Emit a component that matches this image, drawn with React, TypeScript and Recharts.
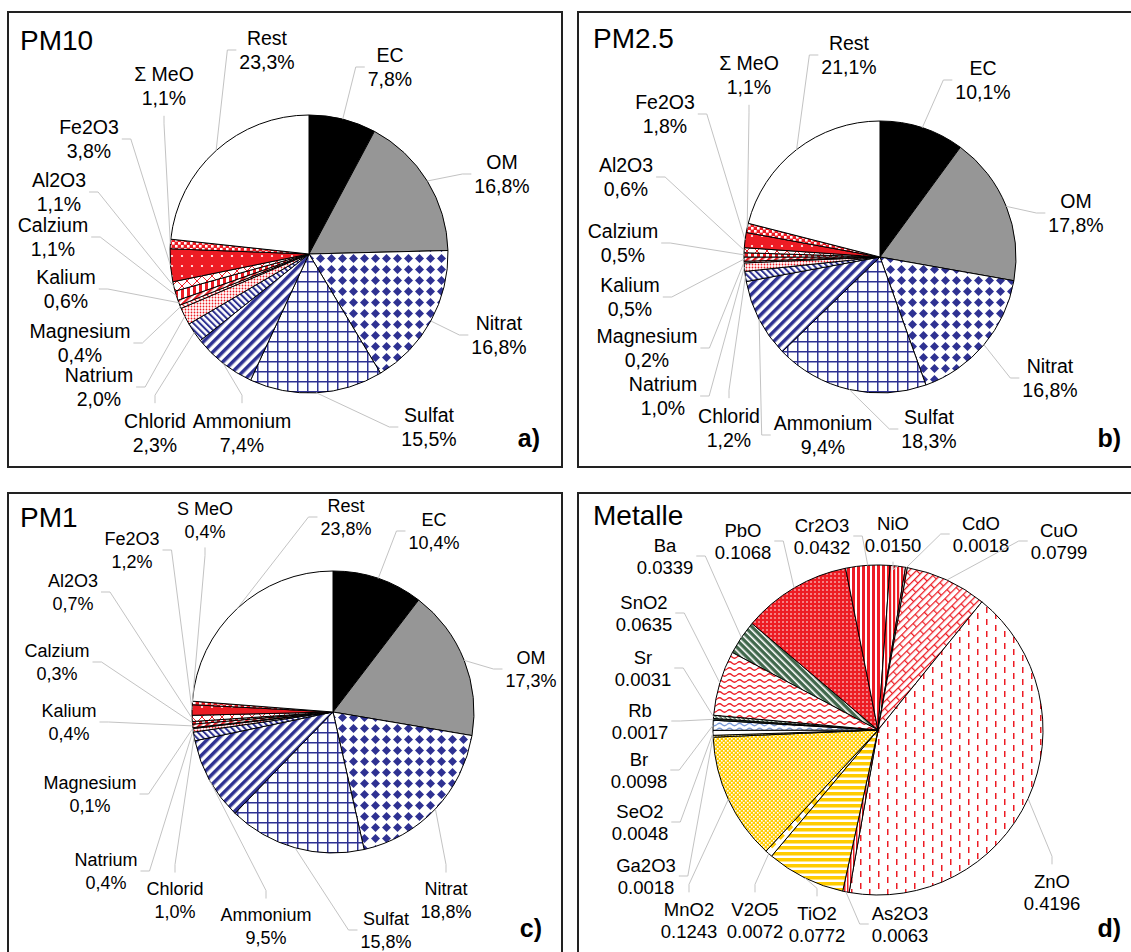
import React from 'react';
import { PieChart, Pie, Cell } from 'recharts';

const FONT = '"Liberation Sans", Arial, Helvetica, sans-serif';

// ---- data ----
const pm10Names = ['EC', 'OM', 'Nitrat', 'Sulfat', 'Ammonium', 'Chlorid', 'Natrium', 'Magnesium', 'Kalium', 'Calzium', 'Al2O3', 'Fe2O3', 'Σ MeO', 'Rest'];
const pm10Values = [7.8, 16.8, 16.8, 15.5, 7.4, 2.3, 2.0, 0.4, 0.6, 1.1, 1.1, 3.8, 1.1, 23.3];

const pm25Names = ['EC', 'OM', 'Nitrat', 'Sulfat', 'Ammonium', 'Chlorid', 'Natrium', 'Magnesium', 'Kalium', 'Calzium', 'Al2O3', 'Fe2O3', 'Σ MeO', 'Rest'];
const pm25Values = [10.1, 17.8, 16.8, 18.3, 9.4, 1.2, 1.0, 0.2, 0.5, 0.5, 0.6, 1.8, 1.1, 21.1];

const pm1Names = ['EC', 'OM', 'Nitrat', 'Sulfat', 'Ammonium', 'Chlorid', 'Natrium', 'Magnesium', 'Kalium', 'Calzium', 'Al2O3', 'Fe2O3', 'S MeO', 'Rest'];
const pm1Values = [10.4, 17.3, 18.8, 15.8, 9.5, 1.0, 0.4, 0.1, 0.4, 0.3, 0.7, 1.2, 0.4, 23.8];

const metalNames = ['Ba', 'PbO', 'Cr2O3', 'NiO', 'CdO', 'CuO', 'ZnO', 'As2O3', 'TiO2', 'V2O5', 'MnO2', 'Ga2O3', 'SeO2', 'Br', 'Rb', 'Sr', 'SnO2'];
const metalValues = [0.0339, 0.1068, 0.0432, 0.015, 0.0018, 0.0799, 0.4196, 0.0063, 0.0772, 0.0072, 0.1243, 0.0018, 0.0048, 0.0098, 0.0017, 0.0031, 0.0635];

// ---- styles ----
const NAVY = '#2E3192';
const RED = '#ED1C24';
const YEL = '#FFCC00';
const GRN = '#41684C';

const pmFills = [
  '#000000', '#969696', 'url(#p-nitrat)', 'url(#p-sulfat)', 'url(#p-ammon)', 'url(#p-chlorid)',
  'url(#p-natrium)', 'url(#p-mg)', 'url(#p-kalium)', 'url(#p-calz)', 'url(#p-al)', 'url(#p-fe)',
  'url(#p-meo)', '#ffffff',
];
const metalFills = [
  'url(#p-ba)', 'url(#p-pbo)', 'url(#p-cr)', 'url(#p-nio)', 'url(#p-cdo)', 'url(#p-cuo)', 'url(#p-zno)',
  'url(#p-as)', 'url(#p-tio)', 'url(#p-v2o5)', 'url(#p-mno)', 'url(#p-ga)', '#ffffff', 'url(#p-br)',
  '#2f4f3a', 'url(#p-sr)', 'url(#p-sno)',
];

// label centres, relative to the pie centre (layout only)
const pm10Labels = [[81, -187], [193, -80], [190, 81], [120, 173], [-67, 179], [-154, 179], [-210, 133], [-229, 89], [-243, 35], [-256, -17], [-250, -62], [-220, -115], [-145, -168], [-42, -204]];
const pm25Labels = [[103, -177], [196, -44], [170, 121], [49, 172], [-57, 178], [-151, 171], [-217, 139], [-233, 91], [-250, 40], [-257, -14], [-254, -80], [-215, -143], [-131, -182], [-31, -202]];
const pm1Labels = [[101, -181], [198, -43], [113, 188], [53, 218], [-67, 214], [-158, 188], [-227, 159], [-243, 82], [-264, 10], [-276, -50], [-260, -120], [-201, -162], [-128, -192], [13, -195]];
const metalLabels = [[-213, -174], [-135, -189], [-56, -194], [15, -196], [103, -196], [181, -189], [174, 162], [22, 194], [-61, 194], [-123, 190], [-189, 190], [-232, 146], [-238, 92], [-239, 40], [-238, -9], [-235, -62], [-234, -117]];

const pct = (v: number) => v.toFixed(1).replace('.', ',') + '%';
const dec = (v: number) => v.toFixed(4);

let measureCtx: CanvasRenderingContext2D | null = null;
function textWidth(s: string, fs: number) {
  if (!measureCtx && typeof document !== 'undefined') {
    measureCtx = document.createElement('canvas').getContext('2d');
  }
  if (!measureCtx) return s.length * fs * 0.55;
  measureCtx.font = `${fs}px "Liberation Sans", Arial, sans-serif`;
  return measureCtx.measureText(s).width;
}

interface PanelCfg {
  key: string;
  title: string;
  letter: string;
  names: string[];
  values: number[];
  fmt: (v: number) => string;
  fills: string[];
  labels: number[][];
  box: { left: number; top: number; w: number; h: number };
  center: [number, number];
  r: number;
  start: number;
  fs: number;
  ls: number;
  titleAt: [number, number];
  letterAt: [number, number];
}

const panels: PanelCfg[] = [
  {
    key: 'a', title: 'PM10', letter: 'a)', names: pm10Names, values: pm10Values, fmt: pct, fills: pmFills, labels: pm10Labels,
    box: { left: 7, top: 11, w: 556, h: 457 }, center: [309, 254], r: 139, start: 90, fs: 19.5, ls: 24.5,
    titleAt: [20, 50], letterAt: [540, 447],
  },
  {
    key: 'b', title: 'PM2.5', letter: 'b)', names: pm25Names, values: pm25Values, fmt: pct, fills: pmFills, labels: pm25Labels,
    box: { left: 577, top: 11, w: 570, h: 457 }, center: [880, 257], r: 136, start: 90, fs: 19.5, ls: 24.5,
    titleAt: [593, 48], letterAt: [1121, 447],
  },
  {
    key: 'c', title: 'PM1', letter: 'c)', names: pm1Names, values: pm1Values, fmt: pct, fills: pmFills, labels: pm1Labels,
    box: { left: 7, top: 492, w: 556, h: 480 }, center: [333, 712], r: 141, start: 90, fs: 18, ls: 22.5,
    titleAt: [20, 527], letterAt: [542, 937],
  },
  {
    key: 'd', title: 'Metalle', letter: 'd)', names: metalNames, values: metalValues, fmt: dec, fills: metalFills, labels: metalLabels,
    box: { left: 577, top: 492, w: 570, h: 480 }, center: [878, 730], r: 165, start: 152, fs: 18.5, ls: 22,
    titleAt: [593, 525], letterAt: [1121, 937],
  },
];

function makeLabel(p: PanelCfg) {
  return (props: any) => {
    const { cx, cy, midAngle, outerRadius, index } = props;
    const RAD = Math.PI / 180;
    const ex = cx + outerRadius * Math.cos(-midAngle * RAD);
    const ey = cy + outerRadius * Math.sin(-midAngle * RAD);
    const [dx, dy] = p.labels[index];
    const lx = cx + dx;
    const ly = cy + dy;
    const name = p.names[index];
    const val = p.fmt(p.values[index]);
    const hw = Math.max(textWidth(name, p.fs), textWidth(val, p.fs)) / 2;
    const hh = p.ls / 2 + p.fs * 0.9;
    let pts: number[][];
    if (ex > lx - hw - 12 && ex < lx + hw + 12) {
      const sy = ey < ly ? ly - hh : ly + hh;
      const st = ey < ly ? sy - 8 : sy + 8;
      pts = [[lx, sy], [lx, st], [ex, ey]];
    } else {
      const sx = ex < lx ? lx - hw - 3 : lx + hw + 3;
      const st = ex < lx ? sx - 9 : sx + 9;
      pts = [[sx, ly], [st, ly], [ex, ey]];
    }
    return (
      <g key={`lbl-${p.key}-${index}`}>
        <polyline points={pts.map((q) => q.join(',')).join(' ')} fill="none" stroke="#c3c3c3" strokeWidth={1} />
        <text textAnchor="middle" fontSize={p.fs} fontFamily={FONT} fill="#000">
          <tspan x={lx} y={ly - p.ls / 2 + p.fs * 0.36}>{name}</tspan>
          <tspan x={lx} y={ly + p.ls / 2 + p.fs * 0.36}>{val}</tspan>
        </text>
      </g>
    );
  };
}

function PatternDefs() {
  const stripe = (id: string, w: number, sw: number, fg: string, bg: string, rot: number) => (
    <pattern id={id} width={w} height={w} patternUnits="userSpaceOnUse" patternTransform={`rotate(${rot})`}>
      <rect width={w} height={w} fill={bg} />
      <rect width={sw} height={w} fill={fg} />
    </pattern>
  );
  return (
    <svg width={0} height={0} style={{ position: 'absolute' }}>
      <defs>
        <pattern id="p-nitrat" width={11} height={11} patternUnits="userSpaceOnUse">
          <rect width={11} height={11} fill="#fff" />
          <polygon points="5.5,1 10,5.5 5.5,10 1,5.5" fill={NAVY} />
        </pattern>
        <pattern id="p-sulfat" width={10} height={10} patternUnits="userSpaceOnUse">
          <rect width={10} height={10} fill="#fff" />
          <path d="M0 0.75H10M0.75 0V10" stroke={NAVY} strokeWidth={1.5} />
        </pattern>
        {stripe('p-ammon', 7, 3.5, NAVY, '#fff', 45)}
        {stripe('p-chlorid', 4.5, 2, NAVY, '#fff', -45)}
        <pattern id="p-natrium" width={3} height={3} patternUnits="userSpaceOnUse">
          <rect width={3} height={3} fill="#fff" />
          <circle cx={1.5} cy={1.5} r={0.9} fill={RED} />
        </pattern>
        {stripe('p-mg', 4, 1.2, RED, '#fff', -45)}
        {stripe('p-kalium', 5, 2.5, RED, '#fff', 45)}
        {stripe('p-calz', 6, 3, RED, '#fff', 0)}
        <pattern id="p-al" width={10} height={10} patternUnits="userSpaceOnUse">
          <rect width={10} height={10} fill="#fff" />
          <path d="M0 0L10 10M10 0L0 10" stroke={RED} strokeWidth={1} />
        </pattern>
        <pattern id="p-fe" width={10} height={10} patternUnits="userSpaceOnUse">
          <rect width={10} height={10} fill={RED} />
          <circle cx={5} cy={5} r={1.1} fill="#fff" />
        </pattern>
        <pattern id="p-meo" width={6} height={6} patternUnits="userSpaceOnUse">
          <rect width={6} height={6} fill={RED} />
          <rect width={2.6} height={2.6} fill="#fff" />
          <rect x={3} y={3} width={2.6} height={2.6} fill="#fff" />
        </pattern>
        {stripe('p-ba', 5, 1.6, '#ffffff', GRN, -45)}
        <pattern id="p-pbo" width={4} height={4} patternUnits="userSpaceOnUse">
          <rect width={4} height={4} fill={RED} />
          <circle cx={2} cy={2} r={0.8} fill="#fff" />
        </pattern>
        {stripe('p-cr', 5, 3, RED, '#fff', 0)}
        {stripe('p-nio', 4, 2.2, RED, '#fff', 0)}
        {stripe('p-cdo', 3, 1.5, RED, '#fff', 0)}
        <pattern id="p-cuo" width={16} height={10} patternUnits="userSpaceOnUse" patternTransform="rotate(-45)">
          <rect width={16} height={10} fill="#fff" />
          <path d="M0 0.6H16M0 5.6H16M0.6 0V5M8.6 5V10" stroke={RED} strokeWidth={1.2} />
        </pattern>
        <pattern id="p-zno" width={18} height={12} patternUnits="userSpaceOnUse">
          <rect width={18} height={12} fill="#fff" />
          <rect x={4} y={1} width={1.5} height={6} fill={RED} />
          <rect x={13} y={7} width={1.5} height={6} fill={RED} />
          <rect x={13} y={-5} width={1.5} height={6} fill={RED} />
        </pattern>
        {stripe('p-as', 3, 1.5, RED, '#fff', 0)}
        <pattern id="p-tio" width={6} height={6} patternUnits="userSpaceOnUse">
          <rect width={6} height={6} fill="#fff" />
          <rect width={6} height={3.5} fill={YEL} />
        </pattern>
        <pattern id="p-v2o5" width={12} height={12} patternUnits="userSpaceOnUse" patternTransform="rotate(45)">
          <rect width={12} height={12} fill="#fff" />
          <rect width={6} height={6} fill={YEL} />
        </pattern>
        <pattern id="p-mno" width={4} height={4} patternUnits="userSpaceOnUse">
          <rect width={4} height={4} fill={YEL} />
          <rect width={1.6} height={1.6} fill="#fff" />
          <rect x={2} y={2} width={1.6} height={1.6} fill="#fff" />
        </pattern>
        {stripe('p-ga', 3, 1.5, YEL, '#fff', 0)}
        <pattern id="p-br" width={10} height={5} patternUnits="userSpaceOnUse">
          <rect width={10} height={5} fill="#fff" />
          <path d="M0 2.5Q2.5 0 5 2.5T10 2.5" stroke="#7A9BD8" strokeWidth={1.2} fill="none" />
        </pattern>
        {stripe('p-sr', 3, 1.5, '#fff', GRN, -45)}
        <pattern id="p-sno" width={10} height={6} patternUnits="userSpaceOnUse">
          <rect width={10} height={6} fill="#fff" />
          <path d="M0 3Q2.5 0.5 5 3T10 3" stroke={RED} strokeWidth={1.2} fill="none" />
        </pattern>
      </defs>
    </svg>
  );
}

function Panel({ p }: { p: PanelCfg }) {
  const data = p.names.map((name, i) => ({ name, value: p.values[i] }));
  return (
    <div style={{ position: 'absolute', left: p.box.left, top: p.box.top }}>
      <PieChart width={p.box.w} height={p.box.h} margin={{ top: 0, right: 0, bottom: 0, left: 0 }}>
        <Pie
          data={data}
          dataKey="value"
          nameKey="name"
          cx={p.center[0] - p.box.left}
          cy={p.center[1] - p.box.top}
          innerRadius={0}
          outerRadius={p.r}
          startAngle={p.start}
          endAngle={p.start - 360}
          stroke="#000"
          strokeWidth={1}
          label={makeLabel(p)}
          labelLine={false}
          isAnimationActive={false}
        >
          {data.map((d, i) => (
            <Cell key={d.name} fill={p.fills[i]} />
          ))}
        </Pie>
      </PieChart>
    </div>
  );
}

export default function App() {
  return (
    <div style={{ position: 'absolute', left: 0, top: 0, width: 1131, height: 952, overflow: 'hidden', background: '#fff' }}>
      <PatternDefs />
      {panels.map((p) => (
        <div
          key={`box-${p.key}`}
          style={{
            position: 'absolute', left: p.box.left, top: p.box.top, width: p.box.w, height: p.box.h,
            border: '2px solid #222', boxSizing: 'border-box',
          }}
        />
      ))}
      {panels.map((p) => (
        <Panel key={p.key} p={p} />
      ))}
      <svg width={1131} height={952} style={{ position: 'absolute', left: 0, top: 0, pointerEvents: 'none' }}>
        {panels.map((p) => (
          <g key={`t-${p.key}`}>
            <text x={p.titleAt[0]} y={p.titleAt[1]} fontSize={28} fontFamily={FONT} fill="#000">{p.title}</text>
            <text x={p.letterAt[0]} y={p.letterAt[1]} fontSize={25} fontWeight="bold" textAnchor="end" fontFamily={FONT} fill="#000">{p.letter}</text>
          </g>
        ))}
      </svg>
    </div>
  );
}
